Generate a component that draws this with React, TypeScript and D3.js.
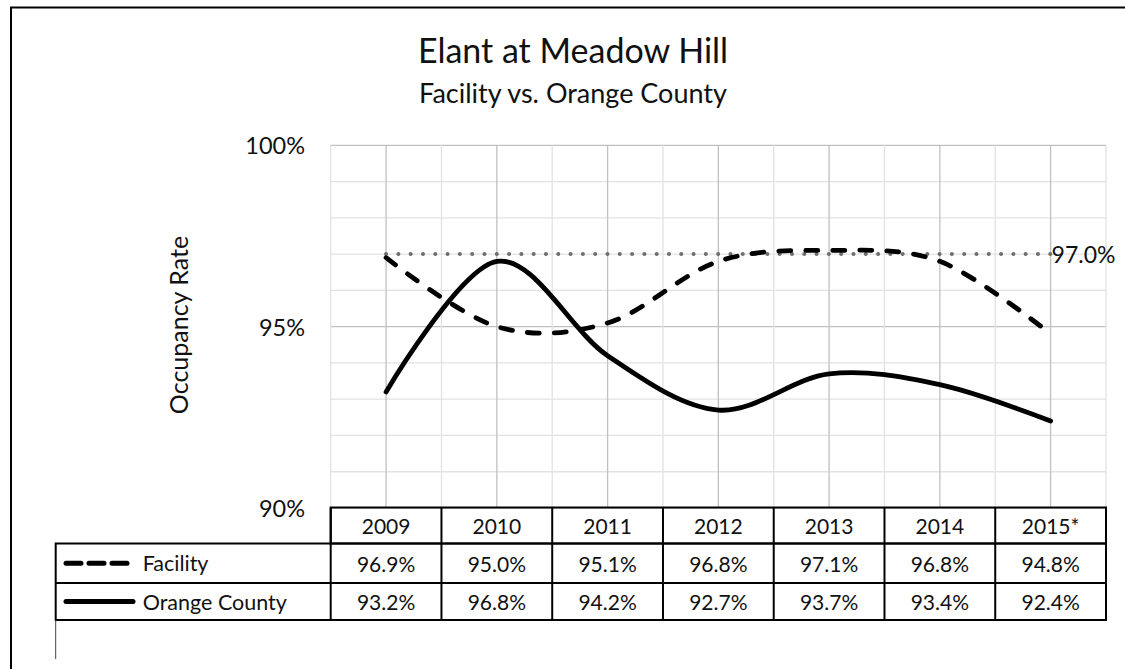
import React from 'react';
import * as d3 from 'd3';

const years = ['2009', '2010', '2011', '2012', '2013', '2014', '2015*'];
const facility = [96.9, 95.0, 95.1, 96.8, 97.1, 96.8, 94.8];
const orangeCounty = [93.2, 96.8, 94.2, 92.7, 93.7, 93.4, 92.4];
const target = 97.0;
const yTicks = [90, 95, 100];
const seriesNames = ['Facility', 'Orange County'];

const W = 1125;
const H = 669;
const FONT = 'Lato, "Open Sans", sans-serif';

export default function App() {
  const x = d3.scaleBand<string>().domain(years).range([330.7, 1106]).padding(0);
  const bw = x.bandwidth();
  const cx = (yr: string) => (x(yr) as number) + bw / 2;
  const y = d3.scaleLinear().domain([90, 100]).range([508, 145.3]);

  const line = d3
    .line<number>()
    .x((_, i) => cx(years[i]))
    .y((v) => y(v))
    .curve(d3.curveCardinal.tension(0));

  const gridH = d3.range(90, 101, 1);
  const plotTop = y(100);
  const plotBottom = y(90);
  const plotLeft = x.range()[0];
  const plotRight = x.range()[1];

  const tableTop = 507.5;
  const hdrBottom = 543.5;
  const row1Bottom = 583;
  const row2Bottom = 620;
  const legLeft = 55.7;

  const fmt = (v: number) => v.toFixed(1) + '%';

  return (
    <svg
      width={W}
      height={H}
      style={{ position: 'absolute', left: 0, top: 0, background: '#fff', overflow: 'hidden' }}
      fontFamily={FONT}
    >
      <rect x={0} y={0} width={W} height={H} fill="#fff" />
      <path d={`M11,${H + 5} V7.5 H${W + 5}`} fill="none" stroke="#000" strokeWidth={2} />

      {/* titles */}
      <text x={573} y={62.5} textAnchor="middle" fontSize={34} fill="#111">
        Elant at Meadow Hill
      </text>
      <text x={573} y={103} textAnchor="middle" fontSize={27} fill="#111">
        Facility vs. Orange County
      </text>

      {/* gridlines */}
      {gridH.map((v) => (
        <line
          key={'h' + v}
          x1={plotLeft}
          x2={plotRight}
          y1={y(v)}
          y2={y(v)}
          stroke={v % 5 === 0 ? '#c0c0c0' : '#e2e2e2'}
          strokeWidth={1.3}
        />
      ))}
      {years.map((yr) => (
        <line
          key={'vb' + yr}
          x1={x(yr) as number}
          x2={x(yr) as number}
          y1={plotTop}
          y2={plotBottom}
          stroke="#e2e2e2"
          strokeWidth={1.3}
        />
      ))}
      <line x1={plotRight} x2={plotRight} y1={plotTop} y2={plotBottom} stroke="#e2e2e2" strokeWidth={1.3} />
      {years.map((yr) => (
        <line
          key={'vc' + yr}
          x1={cx(yr)}
          x2={cx(yr)}
          y1={plotTop}
          y2={plotBottom}
          stroke="#c0c0c0"
          strokeWidth={1.3}
        />
      ))}

      {/* y axis labels */}
      {yTicks.map((t) => (
        <text
          key={'yt' + t}
          x={305}
          y={y(t)}
          textAnchor="end"
          dominantBaseline="central"
          fontSize={23.5}
          fill="#111"
        >
          {t}%
        </text>
      ))}
      <text
        transform={`translate(178,325) rotate(-90)`}
        textAnchor="middle"
        dominantBaseline="central"
        fontSize={25}
        fill="#111"
      >
        Occupancy Rate
      </text>

      {/* target line */}
      <line
        x1={cx(years[0])}
        x2={cx(years[years.length - 1])}
        y1={y(target)}
        y2={y(target)}
        stroke="#6e6e6e"
        strokeWidth={4}
        strokeLinecap="round"
        strokeDasharray="0 12.3"
      />
      <text
        x={cx(years[years.length - 1]) + 1}
        y={y(target)}
        dominantBaseline="central"
        fontSize={23}
        fill="#111"
      >
        {fmt(target)}
      </text>

      {/* series */}
      <path
        d={line(facility) || ''}
        fill="none"
        stroke="#000"
        strokeWidth={4.8}
        strokeLinecap="round"
        strokeDasharray="12 15"
      />
      <path d={line(orangeCounty) || ''} fill="none" stroke="#000" strokeWidth={4.8} strokeLinecap="round" />

      {/* data table */}
      <g stroke="#000" strokeWidth={2} fill="none">
        <rect x={plotLeft} y={tableTop} width={plotRight - plotLeft} height={hdrBottom - tableTop} />
        <rect x={legLeft} y={hdrBottom} width={plotRight - legLeft} height={row2Bottom - hdrBottom} />
        <line x1={legLeft} x2={plotRight} y1={row1Bottom} y2={row1Bottom} />
        {years.map((yr) => (
          <line key={'tc' + yr} x1={x(yr) as number} x2={x(yr) as number} y1={tableTop} y2={row2Bottom} />
        ))}
      </g>
      <line x1={legLeft} x2={legLeft} y1={row2Bottom} y2={659} stroke="#444" strokeWidth={1} />

      {years.map((yr, i) => (
        <g key={'tv' + yr} fontSize={21} fill="#111" textAnchor="middle">
          <text x={cx(yr)} y={(tableTop + hdrBottom) / 2} dominantBaseline="central">
            {yr}
          </text>
          <text x={cx(yr)} y={(hdrBottom + row1Bottom) / 2} dominantBaseline="central">
            {fmt(facility[i])}
          </text>
          <text x={cx(yr)} y={(row1Bottom + row2Bottom) / 2} dominantBaseline="central">
            {fmt(orangeCounty[i])}
          </text>
        </g>
      ))}

      {/* legend keys */}
      <line
        x1={66}
        x2={130}
        y1={(hdrBottom + row1Bottom) / 2}
        y2={(hdrBottom + row1Bottom) / 2}
        stroke="#000"
        strokeWidth={5}
        strokeLinecap="round"
        strokeDasharray="15 8"
      />
      <line
        x1={66}
        x2={133}
        y1={(row1Bottom + row2Bottom) / 2}
        y2={(row1Bottom + row2Bottom) / 2}
        stroke="#000"
        strokeWidth={5}
        strokeLinecap="round"
      />
      <text x={142.7} y={(hdrBottom + row1Bottom) / 2} dominantBaseline="central" fontSize={21.5} fill="#111">
        {seriesNames[0]}
      </text>
      <text x={142.7} y={(row1Bottom + row2Bottom) / 2} dominantBaseline="central" fontSize={21.5} fill="#111">
        {seriesNames[1]}
      </text>
    </svg>
  );
}
